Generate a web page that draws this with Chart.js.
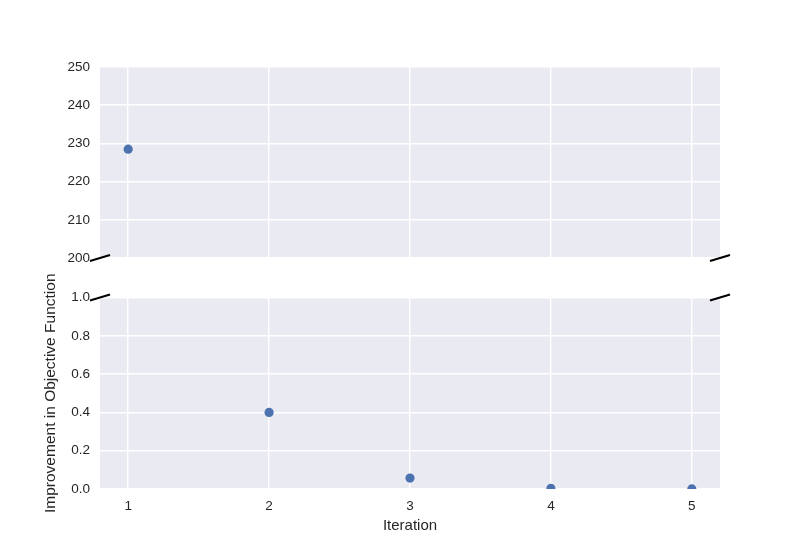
<!DOCTYPE html>
<html>
<head>
<meta charset="utf-8">
<script src="https://cdn.jsdelivr.net/npm/chart.js@4.4.1/dist/chart.umd.min.js"></script>
<style>
  html, body { margin: 0; padding: 0; background: #ffffff; }
  #wrap { position: relative; width: 800px; height: 550px; overflow: hidden; }
  .pane { position: absolute; left: 0; width: 800px; }
  #topPane { top: 0; height: 278px; }
  #botPane { top: 262px; height: 288px; }
</style>
</head>
<body>
<div id="wrap">
  <div class="pane" id="topPane"><canvas id="topChart" width="800" height="278"></canvas></div>
  <div class="pane" id="botPane"><canvas id="botChart" width="800" height="288"></canvas></div>
</div>
<script>
// ---- data ----
const iterations = [1, 2, 3, 4, 5];
const improvement = [228.5, 0.40, 0.057, 0.003, 0.0005];
const xTicks = [1, 2, 3, 4, 5];
const topYTicks = [200, 210, 220, 230, 240, 250];
const bottomYTicks = [0.0, 0.2, 0.4, 0.6, 0.8, 1.0];
const xLabel = 'Iteration';
const yLabel = 'Improvement in Objective Function';

const FONT = '"Liberation Sans", Arial, sans-serif';
const TEXT = '#262626';
const BG = '#EAEAF2';
const POINT = '#4C72B0';

const points = iterations.map((x, i) => ({ x: x, y: improvement[i] }));

const bgPlugin = {
  id: 'bg',
  beforeDraw(chart) {
    const a = chart.chartArea, c = chart.ctx;
    c.save(); c.fillStyle = BG; c.fillRect(a.left, a.top, a.right - a.left, a.bottom - a.top); c.restore();
  }
};
function breakPlugin(edge) {
  return {
    id: 'brk',
    afterDraw(chart) {
      const a = chart.chartArea, c = chart.ctx;
      const y = edge === 'bottom' ? a.bottom : a.top;
      c.save(); c.strokeStyle = '#000'; c.lineWidth = 2;
      [a.left, a.right].forEach(x => {
        c.beginPath(); c.moveTo(x - 10, y + 3); c.lineTo(x + 10, y - 3); c.stroke();
      });
      c.restore();
    }
  };
}

function makeChart(id, opts) {
  return new Chart(document.getElementById(id), {
    type: 'scatter',
    data: { datasets: [{ data: points, backgroundColor: POINT, borderColor: POINT, pointRadius: 4.6, pointBorderWidth: 0, pointHoverRadius: 4.6 }] },
    options: {
      responsive: false, animation: false, events: [],
      layout: { padding: opts.padding },
      plugins: { legend: { display: false }, tooltip: { enabled: false } },
      scales: {
        x: {
          type: 'linear', min: 0.8, max: 5.2,
          afterBuildTicks: s => { s.ticks = xTicks.map(v => ({ value: v })); },
          afterFit: s => { s.height = opts.xHeight; },
          grid: { color: '#ffffff', lineWidth: 1.4, drawTicks: false },
          border: { display: false },
          ticks: { display: opts.showX, padding: 9, color: TEXT, font: { family: FONT, size: 13.5 }, callback: v => String(v) },
          title: { display: opts.showX, text: xLabel, color: TEXT, font: { family: FONT, size: 15 }, padding: { top: 0, bottom: 15 } }
        },
        y: {
          min: opts.yMin, max: opts.yMax,
          afterBuildTicks: s => { s.ticks = opts.yTicks.map(v => ({ value: v })); },
          afterFit: s => { s.width = 100; },
          grid: { color: '#ffffff', lineWidth: 1.4, drawTicks: false },
          border: { display: false },
          ticks: { padding: 10, color: TEXT, font: { family: FONT, size: 13.5 }, callback: opts.fmt },
          title: { display: opts.showYTitle, text: yLabel, color: TEXT, font: { family: FONT, size: 15.5 }, padding: { top: 41, bottom: 0 } }
        }
      }
    },
    plugins: [bgPlugin, breakPlugin(opts.edge)]
  });
}

makeChart('topChart', {
  padding: { top: 67, left: 0, right: 80, bottom: 20 },
  xHeight: 0, showX: false, showYTitle: false,
  yMin: 200, yMax: 250, yTicks: topYTicks, fmt: v => String(Math.round(v)), edge: 'bottom'
});
makeChart('botChart', {
  padding: { top: 35.5, left: 0, right: 80, bottom: 0 },
  xHeight: 61, showX: true, showYTitle: true,
  yMin: 0, yMax: 1, yTicks: bottomYTicks, fmt: v => Number(v).toFixed(1), edge: 'top'
});
</script>
</body>
</html>
